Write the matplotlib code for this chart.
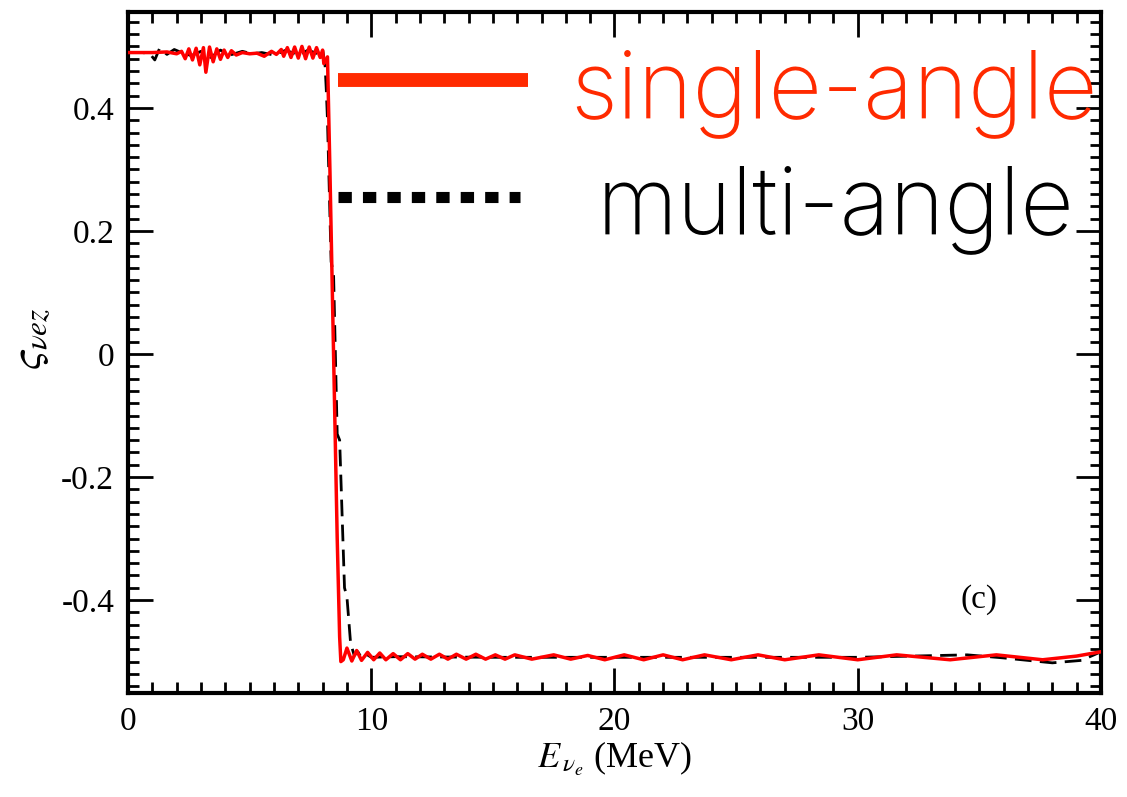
import numpy as np
from matplotlib import pyplot as plt
from matplotlib.lines import Line2D
from matplotlib.ticker import MultipleLocator

plt.rcParams['font.family'] = 'Liberation Serif'
plt.rcParams['mathtext.fontset'] = 'stix'

#--------------
# single-angle (red, solid)
single_E = [0.0, 1.0, 1.6, 2.0, 2.2, 2.35, 2.5, 2.65, 2.8, 2.95, 3.1, 3.2, 3.35, 3.5, 3.65, 3.8, 3.95, 4.1,
            4.25, 4.45, 4.7, 5.0, 5.3, 5.6, 5.9, 6.1, 6.3, 6.4, 6.55, 6.7, 6.85, 7.0, 7.15, 7.3, 7.45, 7.6,
            7.75, 7.9, 8.0, 8.05, 8.2, 8.3, 8.45, 8.6, 8.7, 8.75, 8.85, 9.0, 9.2, 9.4, 9.6, 9.85, 10.1,
            10.35, 10.6, 10.9, 11.2, 11.5, 11.8, 12.1, 12.45, 12.8, 13.15, 13.5, 13.9, 14.3, 14.7, 15.1,
            15.5, 15.9, 16.6, 17.5, 18.2, 18.9, 19.6, 20.4, 21.2, 22.0, 22.8, 23.7, 24.8, 25.9, 27.0,
            28.4, 30.0, 31.6, 33.8, 35.7, 37.6, 39.0, 40.0]
single_S = [0.490, 0.490, 0.491, 0.488, 0.492, 0.480, 0.496, 0.478, 0.497, 0.470, 0.498, 0.458, 0.499,
            0.475, 0.496, 0.479, 0.494, 0.482, 0.493, 0.486, 0.490, 0.488, 0.489, 0.484, 0.492, 0.487,
            0.495, 0.484, 0.498, 0.482, 0.499, 0.481, 0.500, 0.480, 0.499, 0.481, 0.498, 0.482, 0.494,
            0.472, 0.483, 0.300, 0.000, -0.300, -0.460, -0.500, -0.497, -0.478, -0.499, -0.482, -0.498,
            -0.485, -0.497, -0.486, -0.497, -0.487, -0.497, -0.487, -0.496, -0.488, -0.496, -0.488,
            -0.496, -0.488, -0.496, -0.488, -0.496, -0.489, -0.496, -0.489, -0.496, -0.489, -0.496,
            -0.490, -0.497, -0.489, -0.497, -0.489, -0.497, -0.489, -0.497, -0.489, -0.497, -0.489,
            -0.497, -0.489, -0.497, -0.489, -0.497, -0.491, -0.484]

# multi-angle (black, dashed)
multi_E = [0.0, 0.6, 0.9, 1.1, 1.3, 1.6, 1.9, 2.2, 2.6, 3.0, 3.4, 3.8, 4.2, 4.7, 5.1, 5.5, 6.0, 6.5, 7.0,
           7.4, 7.8, 8.0, 8.1, 8.15, 8.2, 8.35, 8.45, 8.6, 8.7, 8.9, 9.0, 9.15, 9.3, 9.45, 9.6, 9.8, 10.0,
           11.0, 15.0, 20.0, 25.0, 30.0, 34.5, 36.0, 38.0, 39.2, 40.0]
multi_S = [0.490, 0.490, 0.488, 0.478, 0.497, 0.487, 0.495, 0.490, 0.485, 0.492, 0.482, 0.494, 0.486,
           0.492, 0.488, 0.490, 0.486, 0.494, 0.485, 0.494, 0.488, 0.495, 0.470, 0.430, 0.380, 0.150,
           0.130, -0.130, -0.140, -0.380, -0.395, -0.470, -0.490, -0.484, -0.494, -0.488, -0.493,
           -0.492, -0.493, -0.493, -0.493, -0.493, -0.489, -0.494, -0.502, -0.498, -0.484]

x_ticks = [0, 10, 20, 30, 40]
y_ticks = [-0.4, -0.2, 0, 0.2, 0.4]
y_tick_labels = ['-0.4', '-0.2', '0', '0.2', '0.4']

#--------------
fig = plt.figure(figsize=(11.27, 7.97), dpi=100)
ax = fig.add_axes([0.1136, 0.1305, 0.8633, 0.8545])

ax.plot(multi_E, multi_S, color='black', lw=2, dashes=(6, 3), zorder=2)
ax.plot(single_E, single_S, color='red', lw=2.5, zorder=3)

ax.set_xlim(0, 40)
ax.set_ylim(-0.551, 0.556)
ax.set_xticks(x_ticks)
ax.set_yticks(y_ticks)
ax.set_yticklabels(y_tick_labels)
ax.xaxis.set_minor_locator(MultipleLocator(1))
ax.yaxis.set_minor_locator(MultipleLocator(0.02))
ax.tick_params(which='both', direction='in', top=True, right=True, labelsize=24, width=2)
ax.tick_params(which='major', length=18, pad=10)
ax.tick_params(which='minor', length=8)
for s in ax.spines.values():
    s.set_linewidth(3)

ax.set_xlabel(r'$E_{\,\nu_e}$ (MeV)', fontsize=26, labelpad=2)
ax.set_ylabel(r'$\varsigma_{\nu e z}$', fontsize=32)
ax.yaxis.set_label_coords(-0.078, 0.52)

ax.text(35.0, -0.40, '(c)', fontsize=24, ha='center', va='center')

# legend drawn by hand to match the layout
ax.add_line(Line2D([0.216, 0.411], [0.900, 0.900], transform=ax.transAxes, color='#ff2a00', lw=10,
                   solid_capstyle='butt'))
ax.add_line(Line2D([0.216, 0.403], [0.728, 0.728], transform=ax.transAxes, color='black', lw=8,
                   dashes=(1.2, 1.0), dash_capstyle='butt'))
ax.text(0.455, 0.846, 'single-angle', transform=ax.transAxes, fontsize=67, color='#ff2a00',
        family='Inter', fontweight='light', ha='left', va='baseline')
ax.text(0.482, 0.675, 'multi-angle', transform=ax.transAxes, fontsize=67, color='black',
        family='Inter', fontweight='light', ha='left', va='baseline')

fig.savefig('out.png', dpi=100)
